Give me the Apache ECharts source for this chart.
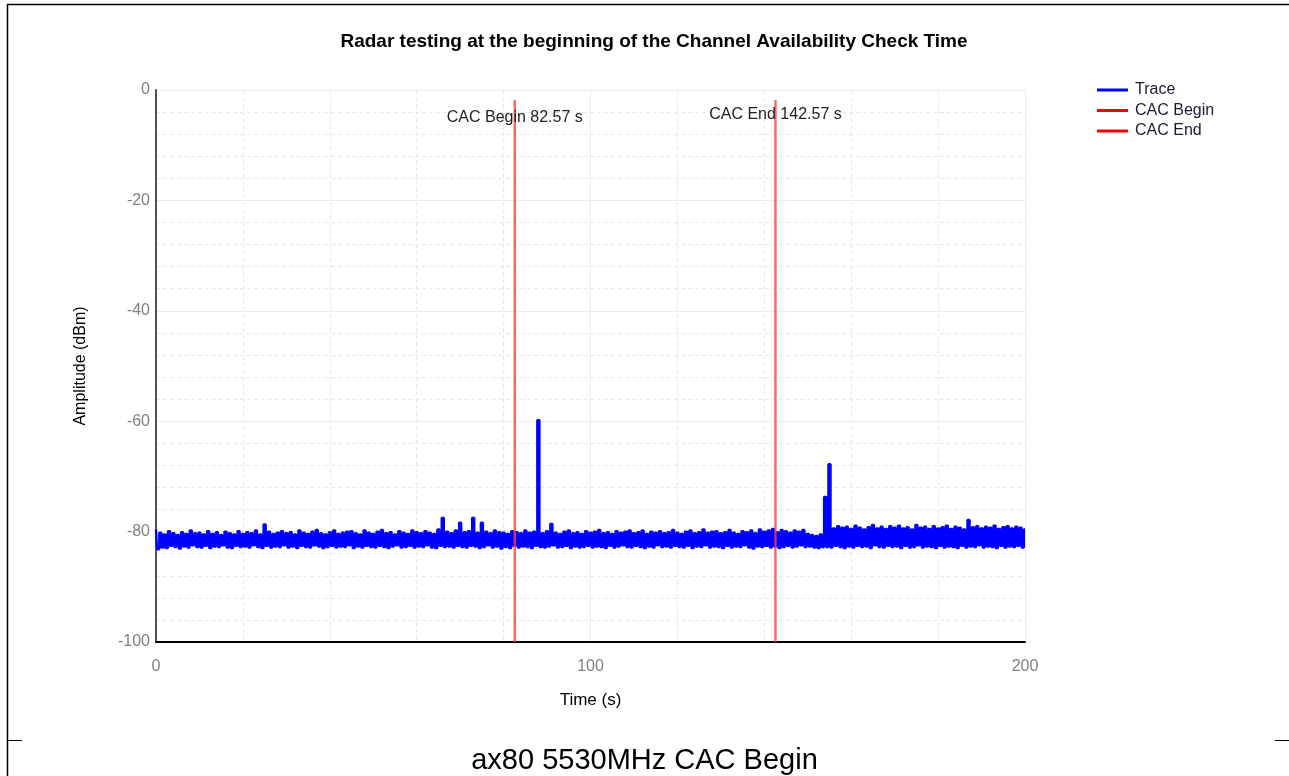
<!DOCTYPE html>
<html>
<head>
<meta charset="utf-8">
<script src="https://cdn.jsdelivr.net/npm/echarts@6/dist/echarts.min.js"></script>
<style>
html,body{margin:0;padding:0;background:#fff;}
#chart{width:1289px;height:776px;}
</style>
</head>
<body>
<div id="chart"></div>
<script>
// Chart texts
const chartTitle = 'Radar testing at the beginning of the Channel Availability Check Time';
const caption = 'ax80 5530MHz CAC Begin';
const xAxisName = 'Time (s)';
const yAxisName = 'Amplitude (dBm)';
const legendNames = ['Trace', 'CAC Begin', 'CAC End'];

// Axis ranges / ticks
const xTicks = [0, 100, 200];
const yTicks = [-100, -80, -60, -40, -20, 0];

// CAC markers (seconds)
const cacBegin = 82.57;
const cacEnd = 142.57;
const markerTop = -1.8;

// Trace envelope: per-second peak (at t = i s)
const traceHigh = [
  -79.6, -80.2, -80.5, -79.9, -80.3, -80.6, -80.1, -80.4, -79.8, -80.3,
  -80.2, -80.5, -79.9, -80.4, -80.1, -80.6, -80.0, -80.3, -80.5, -79.9,
  -80.4, -80.1, -80.3, -79.8, -80.5, -78.7, -80.0, -80.4, -80.2, -79.9,
  -80.3, -80.1, -80.5, -79.8, -80.2, -80.4, -80.0, -79.7, -80.3, -80.5,
  -80.1, -79.8, -80.4, -80.2, -80.0, -79.9, -80.3, -80.5, -79.8, -80.2,
  -80.4, -80.0, -79.7, -80.3, -80.1, -80.5, -79.9, -80.2, -80.4, -79.8,
  -80.1, -80.3, -79.9, -80.2, -80.4, -79.6, -77.5, -80.0, -80.3, -79.8,
  -78.4, -80.1, -79.9, -77.5, -80.2, -78.4, -80.0, -80.3, -79.8, -80.1,
  -80.2, -80.4, -79.9, -80.1, -80.3, -79.8, -80.2, -80.0, -59.8, -80.3,
  -79.9, -78.6, -80.2, -80.4, -80.0, -79.8, -80.3, -80.1, -80.4, -79.9,
  -80.2, -80.0, -79.7, -80.3, -80.1, -80.4, -79.9, -80.2, -80.0, -79.8,
  -80.3, -80.1, -79.8, -80.4, -80.0, -80.2, -79.9, -80.3, -80.1, -79.7,
  -80.2, -80.4, -80.0, -79.8, -80.3, -80.1, -79.6, -80.2, -80.0, -79.9,
  -80.3, -80.1, -79.7, -80.2, -80.4, -79.9, -80.1, -79.8, -80.3, -79.6,
  -80.0, -79.8, -79.5, -80.1, -79.7, -79.9, -80.2, -79.8, -80.0, -79.7,
  -80.4, -80.6, -80.8, -80.5, -73.7, -67.8, -79.4, -79.0, -79.3, -79.1,
  -79.5, -78.9, -79.3, -79.6, -79.2, -78.8, -79.4, -79.1, -79.5, -79.0,
  -79.3, -78.9, -79.4, -79.2, -79.6, -78.8, -79.3, -79.1, -79.5, -79.0,
  -79.4, -79.2, -78.9, -79.5, -79.1, -79.3, -79.6, -77.9, -79.2, -79.0,
  -79.4, -79.1, -79.3, -78.9, -79.5, -79.2, -79.0, -79.4, -79.1, -79.3,
  -79.6
];
// Trace envelope: per-second trough (at t = i + 0.5 s)
const traceLow = [
  -83.2, -82.9, -83.0, -82.6, -82.8, -83.1, -82.7, -82.9, -82.5, -82.8,
  -82.9, -82.6, -83.0, -82.7, -82.8, -82.5, -82.9, -83.0, -82.6, -82.8,
  -82.7, -82.9, -82.5, -82.8, -83.0, -82.6, -82.9, -82.7, -82.8, -82.5,
  -82.9, -82.7, -83.0, -82.6, -82.8, -82.9, -82.5, -82.7, -83.0, -82.8,
  -82.6, -82.9, -82.7, -82.8, -82.5, -83.0, -82.7, -82.9, -82.6, -82.8,
  -82.9, -82.6, -82.8, -83.0, -82.7, -82.5, -82.9, -82.8, -82.6, -82.9,
  -82.7, -82.8, -82.5, -82.9, -83.0, -82.6, -82.8, -82.7, -82.9, -82.6,
  -82.8, -82.9, -82.6, -82.7, -83.0, -82.8, -82.5, -82.9, -82.7, -83.1,
  -82.8, -83.0, -82.6, -82.9, -82.7, -82.8, -83.0, -82.6, -82.8, -82.9,
  -82.7, -82.5, -82.9, -82.8, -82.6, -83.0, -82.7, -82.9, -82.8, -82.6,
  -82.9, -82.7, -82.8, -83.0, -82.6, -82.9, -82.7, -82.5, -82.8, -82.9,
  -82.6, -82.8, -83.0, -82.7, -82.9, -82.5, -82.8, -82.7, -82.9, -82.6,
  -82.8, -82.9, -82.6, -83.0, -82.7, -82.8, -82.5, -82.9, -82.7, -82.8,
  -83.0, -82.6, -82.9, -82.7, -82.8, -82.5, -82.9, -83.1, -82.7, -82.8,
  -82.6, -82.9, -82.7, -83.0, -82.8, -82.6, -82.9, -82.7, -82.5, -82.8,
  -82.7, -82.9, -83.0, -82.8, -82.8, -82.9, -82.6, -82.8, -83.0, -82.7,
  -82.9, -82.6, -82.8, -82.7, -83.0, -82.5, -82.8, -82.9, -82.6, -82.8,
  -82.7, -83.0, -82.6, -82.9, -82.8, -82.5, -82.9, -82.7, -82.8, -83.0,
  -82.6, -82.9, -82.7, -82.8, -83.0, -82.6, -82.9, -82.7, -82.8, -82.5,
  -82.9, -82.7, -82.8, -83.0, -82.6, -82.9, -82.7, -82.8, -82.6, -82.9
];

// Build the trace (alternating peak / trough samples)
const traceData = [];
for (let i = 0; i < traceHigh.length; i++) {
  traceData.push([i, traceHigh[i]]);
  if (i < traceLow.length) traceData.push([i + 0.5, traceLow[i]]);
}

const FONT = '"Liberation Sans", Arial, sans-serif';
const chart = echarts.init(document.getElementById('chart'), null, {renderer: 'canvas'});

function markerLabel(text, dist) {
  return {show: true, position: 'bottom', distance: dist, formatter: text,
          fontFamily: FONT, fontSize: 16, color: '#222'};
}

const option = {
  animation: false,
  backgroundColor: '#ffffff',
  title: {
    text: chartTitle,
    left: 649,
    textAlign: 'center',
    top: 27,
    textStyle: {fontFamily: FONT, fontSize: 19, fontWeight: 'bold', color: '#000'}
  },
  legend: {
    orient: 'vertical',
    left: 1097,
    top: 82,
    padding: 0,
    icon: 'rect',
    itemWidth: 31,
    itemHeight: 3,
    itemGap: 4.5,
    selectedMode: false,
    textStyle: {fontFamily: FONT, fontSize: 16, color: '#1a1a33', padding: [0, 0, 0, 2]},
    data: [
      {name: legendNames[0], itemStyle: {color: '#0000ff'}},
      {name: legendNames[1], itemStyle: {color: '#ff0000'}},
      {name: legendNames[2], itemStyle: {color: '#ff0000'}}
    ]
  },
  grid: {left: 156, right: 264, top: 90, bottom: 134, containLabel: false},
  xAxis: {
    type: 'value',
    min: xTicks[0],
    max: xTicks[xTicks.length - 1],
    interval: xTicks[1] - xTicks[0],
    name: xAxisName,
    nameLocation: 'middle',
    nameGap: 50,
    nameTextStyle: {fontFamily: FONT, fontSize: 17, color: '#000'},
    axisLine: {show: true, onZero: false, lineStyle: {color: '#000', width: 2}},
    axisTick: {show: false},
    axisLabel: {fontFamily: FONT, fontSize: 16, color: '#808080', margin: 17},
    splitLine: {show: true, lineStyle: {color: '#ececec', width: 1}},
    minorTick: {show: false, splitNumber: 5},
    minorSplitLine: {show: true, lineStyle: {color: '#e8e8e8', type: [4, 3], width: 1}}
  },
  yAxis: {
    type: 'value',
    min: yTicks[0],
    max: yTicks[yTicks.length - 1],
    interval: yTicks[1] - yTicks[0],
    name: yAxisName,
    nameLocation: 'middle',
    nameGap: 67,
    nameRotate: 90,
    nameTextStyle: {fontFamily: FONT, fontSize: 16, color: '#000'},
    axisLine: {show: true, onZero: false, lineStyle: {color: '#505050', width: 2}},
    axisTick: {show: false},
    axisLabel: {fontFamily: FONT, fontSize: 16, color: '#808080', margin: 6},
    splitLine: {show: true, lineStyle: {color: '#ececec', width: 1}},
    minorTick: {show: false, splitNumber: 5},
    minorSplitLine: {show: true, lineStyle: {color: '#e8e8e8', type: [4, 3], width: 1}}
  },
  series: [
    {
      name: legendNames[0],
      type: 'line',
      data: traceData,
      step: 'middle',
      symbol: 'none',
      silent: true,
      lineStyle: {color: '#0000ff', width: 2.3},
      itemStyle: {color: '#0000ff'},
      z: 3
    },
    {
      name: legendNames[1],
      type: 'line',
      data: [[cacBegin, yTicks[0]], {value: [cacBegin, markerTop], label: markerLabel('CAC Begin ' + cacBegin + ' s', 10)}],
      symbol: 'circle',
      symbolSize: 0.1,
      showSymbol: true,
      silent: true,
      lineStyle: {color: 'rgba(255,60,60,0.8)', width: 2.4},
      itemStyle: {color: 'rgba(255,60,60,0.8)'},
      z: 4
    },
    {
      name: legendNames[2],
      type: 'line',
      data: [[cacEnd, yTicks[0]], {value: [cacEnd, markerTop], label: markerLabel('CAC End ' + cacEnd + ' s', 7)}],
      symbol: 'circle',
      symbolSize: 0.1,
      showSymbol: true,
      silent: true,
      lineStyle: {color: 'rgba(255,60,60,0.8)', width: 2.4},
      itemStyle: {color: 'rgba(255,60,60,0.8)'},
      z: 4
    }
  ],
  graphic: [
    {type: 'line', shape: {x1: 7, y1: 4.5, x2: 1289, y2: 4.5}, style: {stroke: '#000', lineWidth: 1.5}, silent: true},
    {type: 'line', shape: {x1: 7.5, y1: 4, x2: 7.5, y2: 776}, style: {stroke: '#000', lineWidth: 1.5}, silent: true},
    {type: 'line', shape: {x1: 7, y1: 740.5, x2: 22, y2: 740.5}, style: {stroke: '#000', lineWidth: 1}, silent: true},
    {type: 'line', shape: {x1: 1275, y1: 740.5, x2: 1289, y2: 740.5}, style: {stroke: '#000', lineWidth: 1}, silent: true},
    {type: 'text', left: 'center', top: 746, style: {text: caption, fontFamily: FONT, fontSize: 29, fill: '#000'}, silent: true}
  ]
};
chart.setOption(option);
</script>
</body>
</html>
